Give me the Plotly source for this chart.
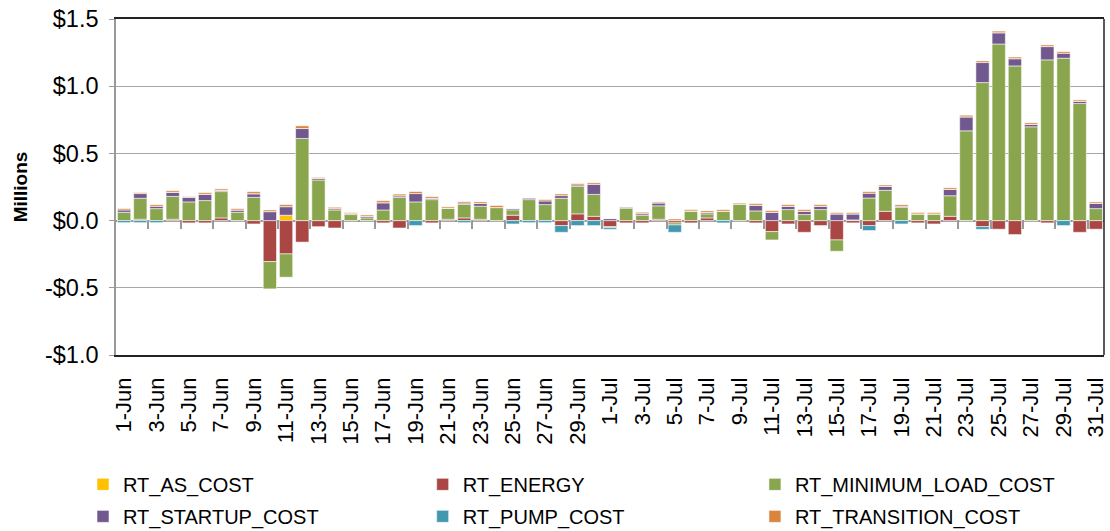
import plotly.graph_objects as go

days = [f"{d}-Jun" for d in range(1, 31)] + [f"{d}-Jul" for d in range(1, 32)]

rt_as_cost = [0]*10 + [0.04] + [0]*50

rt_energy = [0, 0.01, 0, 0.01, -0.017, -0.017, 0.02, 0, -0.025, -0.305,
             -0.248, -0.16, -0.045, -0.055, 0, 0, -0.017, -0.055, 0, -0.017,
             0.01, 0.02, 0.01, 0, 0.04, 0, 0, -0.037, 0.05, 0.032,
             -0.045, -0.017, -0.017, 0.01, -0.017, -0.017, 0.02, 0, 0, -0.017,
             -0.082, -0.025, -0.087, -0.037, -0.144, -0.017, -0.037, 0.069, 0, -0.017,
             -0.025, 0.032, 0, -0.045, -0.064, -0.104, 0, -0.017, 0, -0.087,
             -0.064]

rt_minimum_load_cost = [0.062, 0.156, 0.089, 0.17, 0.139, 0.149, 0.196, 0.062, 0.173, -0.203,
                        -0.173, 0.611, 0.302, 0.079, 0.045, 0.02, 0.079, 0.173, 0.139, 0.156,
                        0.082, 0.1, 0.097, 0.097, 0.04, 0.156, 0.119, 0.166, 0.205, 0.163,
                        -0.007, 0.092, 0.04, 0.1, -0.015, 0.072, 0.03, 0.069, 0.124, 0.072,
                        -0.062, 0.082, 0.045, 0.082, -0.084, 0.005, 0.168, 0.156, 0.099, 0.05,
                        0.05, 0.153, 0.668, 1.027, 1.314, 1.151, 0.698, 1.196, 1.208, 0.871,
                        0.089]

rt_startup_cost = [0.017, 0.035, 0.017, 0.03, 0.035, 0.047, 0.01, 0.017, 0.027, 0.067,
                   0.064, 0.074, 0.012, 0.01, 0.007, 0.012, 0.054, 0.012, 0.062, 0.01,
                   0, 0.01, 0.02, 0, 0.01, 0.012, 0.027, 0.02, 0.01, 0.074,
                   0.015, 0.01, 0.012, 0.022, 0, 0, 0.01, 0, 0, 0.042,
                   0.062, 0.025, 0.025, 0.025, 0.05, 0.045, 0.035, 0.03, 0.007, 0,
                   0, 0.047, 0.104, 0.149, 0.084, 0.054, 0.017, 0.099, 0.037, 0.017,
                   0.04]

rt_pump_cost = [-0.015, -0.015, -0.015, 0, 0, 0, 0, 0, 0, 0,
                0, 0, 0, 0, 0, 0, 0, 0, -0.037, 0,
                0, -0.015, 0, 0, -0.025, -0.015, -0.015, -0.05, -0.037, -0.037,
                -0.013, 0, 0, 0, -0.055, 0, 0, -0.017, 0, 0,
                0, 0, 0, 0, 0, 0, -0.037, 0, -0.025, 0,
                0, 0, 0, -0.02, 0, 0, 0, 0, -0.037, 0,
                0]

rt_transition_cost = [0.01, 0.007, 0.012, 0.012, 0.005, 0.012, 0.01, 0.01, 0.015, 0.012,
                      0.015, 0.02, 0.007, 0.01, 0.007, 0.01, 0.015, 0.012, 0.015, 0.012,
                      0.01, 0.01, 0.012, 0.015, 0, 0, 0.01, 0.012, 0.01, 0.012,
                      0, 0, 0.01, 0.007, 0.012, 0.01, 0.012, 0.012, 0.007, 0.012,
                      0.012, 0.012, 0.012, 0.012, 0.01, 0.01, 0.012, 0.01, 0.012, 0.01,
                      0.01, 0.012, 0.012, 0.012, 0.012, 0.012, 0.012, 0.012, 0.012, 0.01,
                      0.01]

# (name, values, colour, legend column)
series = [
    ("RT_AS_COST", rt_as_cost, "#FFC000", "legend"),
    ("RT_ENERGY", rt_energy, "#AA4643", "legend2"),
    ("RT_MINIMUM_LOAD_COST", rt_minimum_load_cost, "#89A54E", "legend3"),
    ("RT_STARTUP_COST", rt_startup_cost, "#71588F", "legend"),
    ("RT_PUMP_COST", rt_pump_cost, "#4198AF", "legend2"),
    ("RT_TRANSITION_COST", rt_transition_cost, "#DB843D", "legend3"),
]

y_tickvals = [-1.0, -0.5, 0.0, 0.5, 1.0, 1.5]
y_ticktext = ["-$1.0", "-$0.5", "$0.0", "$0.5", "$1.0", "$1.5"]

xs = list(range(len(days)))
FONT = "Liberation Sans, Arial, sans-serif"

fig = go.Figure()
for name, vals, color, lg in series:
    fig.add_trace(go.Bar(
        x=xs, y=vals, name=name, legend=lg, legendgroup=name,
        marker=dict(color=color, line=dict(color="rgba(255,255,255,0.55)", width=1)),
    ))

# invisible trace carrying the zero-line tick axis
fig.add_trace(go.Scatter(x=[None], y=[None], xaxis="x2", showlegend=False, hoverinfo="skip"))

label_idx = xs[::2]

def col_legend(xpos):
    return dict(
        orientation="v", x=xpos, y=-0.327, xanchor="left", yanchor="top",
        font=dict(size=20, family=FONT), traceorder="grouped", tracegroupgap=3,
        bgcolor="rgba(0,0,0,0)", borderwidth=0,
    )

fig.update_layout(
    width=1110, height=531,
    margin=dict(l=116, r=6, t=19, b=176, autoexpand=False),
    paper_bgcolor="white", plot_bgcolor="white",
    barmode="relative", bargap=0.18,
    font=dict(family=FONT, color="black"),
    xaxis=dict(
        range=[-0.5, len(days) - 0.5],
        tickmode="array", tickvals=label_idx, ticktext=[days[i] for i in label_idx],
        tickangle=-90, tickfont=dict(size=22, family=FONT),
        ticks="", showgrid=False, zeroline=False,
        showline=True, linecolor="#222", linewidth=1.5, mirror=True,
        ticklabelstandoff=12,
    ),
    xaxis2=dict(
        overlaying="x", anchor="free", position=0.4, side="bottom",
        range=[-0.5, len(days) - 0.5],
        tickmode="array", tickvals=[i + 1.5 for i in xs[::2][:-1]],
        ticks="outside", ticklen=7, tickcolor="#999", tickwidth=1.5,
        showticklabels=False, showgrid=False, zeroline=False, showline=False,
    ),
    yaxis=dict(
        range=[-1.0, 1.5],
        tickmode="array", tickvals=y_tickvals, ticktext=y_ticktext,
        tickfont=dict(size=23.5, family=FONT),
        ticks="outside", ticklen=5, tickcolor="#999",
        ticklabelstandoff=6,
        showgrid=True, gridcolor="#A6A6A6", gridwidth=1,
        zeroline=True, zerolinecolor="#999", zerolinewidth=1.5,
        showline=True, linecolor="#999", linewidth=1.5,
        title=dict(text="<b>Millions</b>", font=dict(size=19, family=FONT), standoff=12),
    ),
    legend=col_legend(-0.0334),
    legend2=col_legend(0.3104),
    legend3=col_legend(0.6467),
    shapes=[dict(type="line", xref="paper", yref="paper", x0=1, x1=1, y0=0, y1=1,
                 line=dict(color="#222", width=1.5))],
)

fig.write_html("out.html", config={"displayModeBar": False},
               post_script="document.body.style.margin='0';")
